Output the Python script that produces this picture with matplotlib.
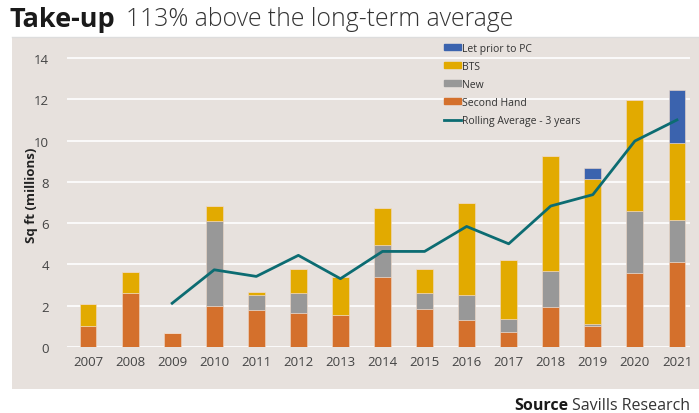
import matplotlib.pyplot as plt
import matplotlib.patches as mpatches
import numpy as np

# data (millions sq ft)
years = ["2007", "2008", "2009", "2010", "2011", "2012", "2013", "2014",
         "2015", "2016", "2017", "2018", "2019", "2020", "2021"]
second_hand = [1.0, 2.6, 0.66, 2.0, 1.77, 1.64, 1.53, 3.37, 1.85, 1.33, 0.72, 1.96, 1.03, 3.58, 4.14]
new = [0.0, 0.0, 0.0, 4.1, 0.76, 0.99, 0.0, 1.55, 0.78, 1.21, 0.64, 1.71, 0.1, 3.02, 1.99]
bts = [1.08, 1.02, 0.0, 0.74, 0.13, 1.17, 1.85, 1.82, 1.13, 4.45, 2.87, 5.57, 6.99, 5.36, 3.77]
let_prior = [0, 0, 0, 0, 0, 0, 0, 0, 0, 0, 0, 0, 0.53, 0, 2.54]
rolling_years = years[2:]
rolling_avg = [2.12, 3.74, 3.42, 4.44, 3.31, 4.63, 4.63, 5.84, 5.0, 6.83, 7.38, 9.98, 11.0]

C_SH = "#d4702c"
C_NEW = "#989898"
C_BTS = "#e2aa00"
C_LET = "#3b63ae"
C_LINE = "#0c6c72"
PANEL = "#e7e1dd"

plt.rcParams['font.family'] = ['Open Sans', 'DejaVu Sans']

fig = plt.figure(figsize=(6.99, 4.14), dpi=100)
fig.patch.set_facecolor("white")

# grey panel behind the chart
bg = fig.add_axes([12 / 699, 1 - 390 / 414, 1, (390 - 38) / 414], zorder=0)
bg.set_facecolor(PANEL)
bg.set_xticks([])
bg.set_yticks([])
for s in bg.spines.values():
    s.set_visible(False)

ax = fig.add_axes([67 / 699, 1 - 348 / 414, (690 - 67) / 699, (348 - 52) / 414], zorder=2)
ax.patch.set_alpha(0)

x = np.arange(len(years))
w = 0.4
sh = np.array(second_hand)
nw = np.array(new)
bt = np.array(bts)
lp = np.array(let_prior)
ec = "#f0d9c8"
ax.bar(x, sh, w, color=C_SH, edgecolor=ec, linewidth=0.4, zorder=3)
ax.bar(x, nw, w, bottom=sh, color=C_NEW, edgecolor=ec, linewidth=0.4, zorder=3)
ax.bar(x, bt, w, bottom=sh + nw, color=C_BTS, edgecolor=ec, linewidth=0.4, zorder=3)
ax.bar(x, lp, w, bottom=sh + nw + bt, color=C_LET, edgecolor=ec, linewidth=0.4, zorder=3)
rx = [years.index(y) for y in rolling_years]
ax.plot(rx, rolling_avg, color=C_LINE, lw=2, zorder=4)

ax.set_xlim(-0.5, 14.31)
ax.set_ylim(0, 14.34)
ax.set_yticks(range(0, 15, 2))
ax.set_xticks(x)
ax.set_xticklabels(years)
ax.grid(axis="y", color="white", lw=1.2, zorder=1)
ax.set_axisbelow(True)
for s in ax.spines.values():
    s.set_visible(False)
ax.tick_params(length=0, labelsize=9.5, colors="#444444", pad=6)
ax.tick_params(axis="y", pad=13)
ax.set_ylabel("Sq ft (millions)", fontsize=9.5, fontweight="bold", color="#222222")
ax.yaxis.set_label_coords(-0.047, 0.515)

handles = [mpatches.Patch(color=C_LET, label="Let prior to PC"),
           mpatches.Patch(color=C_BTS, label="BTS"),
           mpatches.Patch(color=C_NEW, label="New"),
           mpatches.Patch(color=C_SH, label="Second Hand"),
           plt.Line2D([], [], color=C_LINE, lw=2, label="Rolling Average - 3 years")]
leg = ax.legend(handles=handles, loc="upper left", bbox_to_anchor=(0.59, 1.06),
                frameon=False, fontsize=7.5, handlelength=1.6, handleheight=0.5,
                handletextpad=0.1, labelspacing=0.68)
for t in leg.get_texts():
    t.set_color("#333333")

fig.text(10 / 699, 1 - 20 / 414, "Take-up", fontsize=19.5, fontweight="bold",
         color="#1a1a1a", va="center")
fig.text(126 / 699, 1 - 20 / 414, "113% above the long-term average", fontsize=17.8,
         fontweight="light", color="#333333", va="center")
fig.add_artist(plt.Line2D([12 / 699, 1], [1 - 38 / 414] * 2, color="#dddddd", lw=1,
                          transform=fig.transFigure))

fig.text(514 / 699, 1 - 406 / 414, "Source", fontsize=11.5, fontweight="bold",
         color="#1a1a1a", va="center")
fig.text(572 / 699, 1 - 406 / 414, "Savills Research", fontsize=11.5,
         color="#333333", va="center")

fig.savefig("out.png", dpi=100)
